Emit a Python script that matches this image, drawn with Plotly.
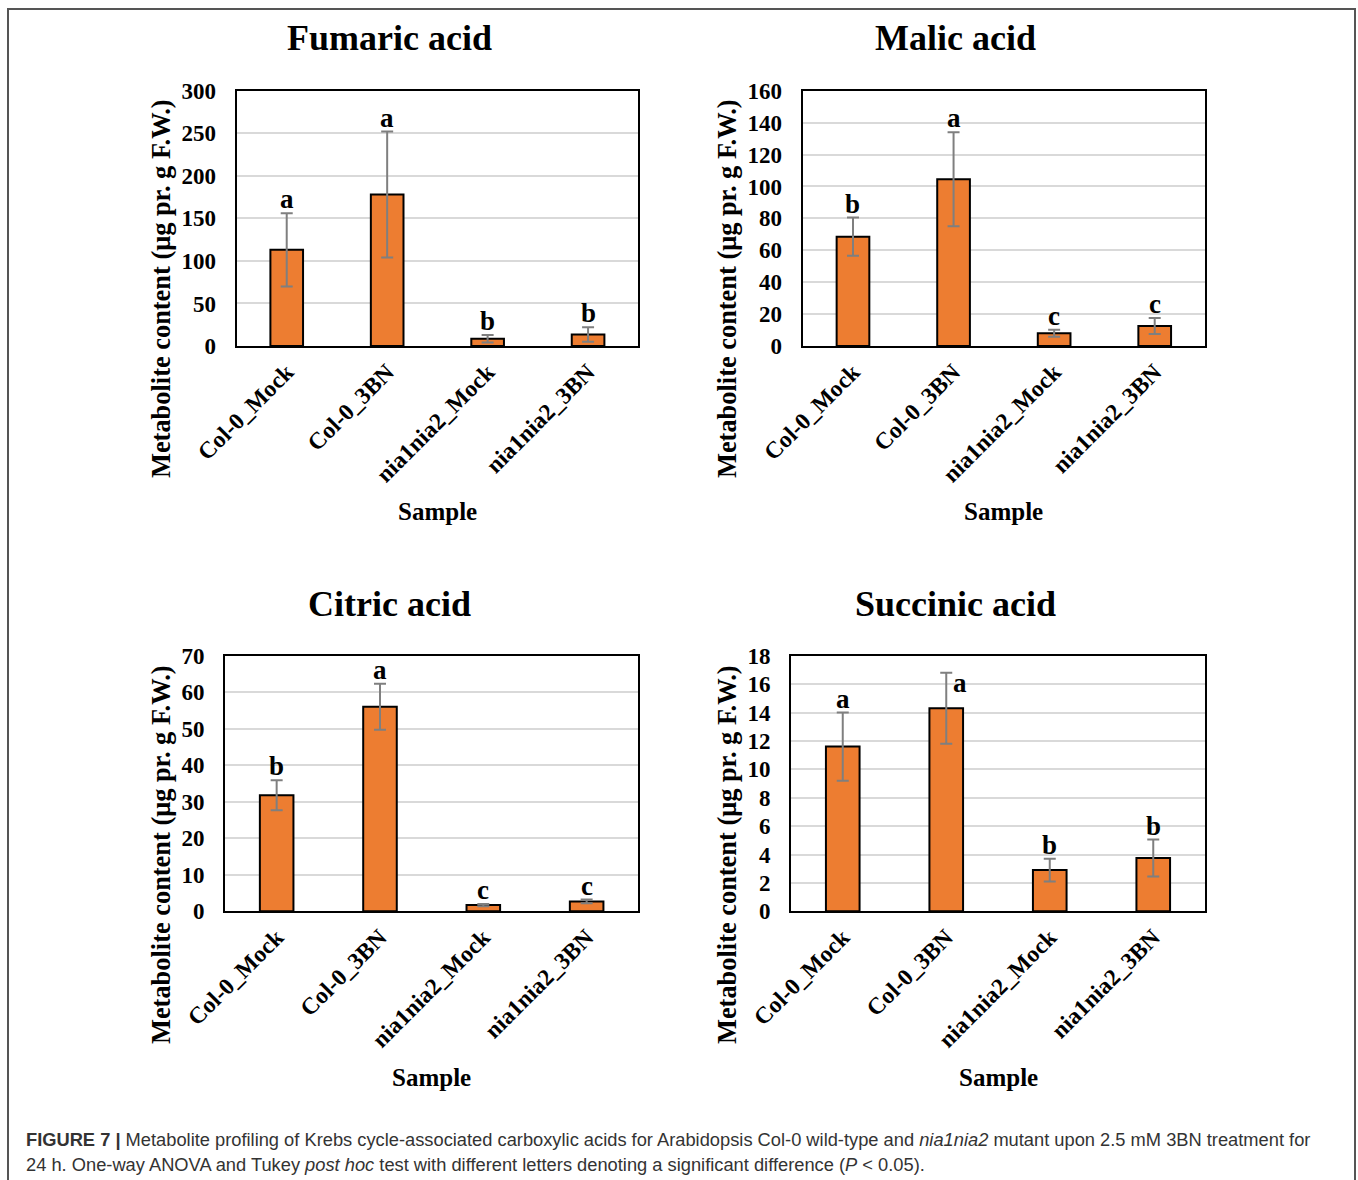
import plotly.graph_objects as go

W, H = 1358, 1180

samples = ["Col-0_Mock", "Col-0_3BN", "nia1nia2_Mock", "nia1nia2_3BN"]

fumaric_mean = [113, 178, 8.5, 13.5]
fumaric_err = [43, 74, 4.5, 8.5]
fumaric_letters = ["a", "a", "b", "b"]

malic_mean = [68.5, 104.5, 8, 12.5]
malic_err = [12, 29.5, 2.2, 5]
malic_letters = ["b", "a", "c", "c"]

citric_mean = [31.8, 56.0, 1.7, 2.7]
citric_err = [4.1, 6.3, 0.3, 0.5]
citric_letters = ["b", "a", "c", "c"]

succinic_mean = [11.6, 14.3, 2.9, 3.75]
succinic_err = [2.4, 2.5, 0.8, 1.3]
succinic_letters = ["a", "a", "b", "b"]

titles = ["Fumaric acid", "Malic acid", "Citric acid", "Succinic acid"]
y_ranges = [[0, 300], [0, 160], [0, 70], [0, 18]]
y_dticks = [50, 20, 10, 2]

y_title = "Metabolite content (μg pr. g F.W.)"
x_title = "Sample"

caption1 = ("<b>FIGURE 7 |</b> Metabolite profiling of Krebs cycle-associated carboxylic acids for "
            "Arabidopsis Col-0 wild-type and <i>nia1nia2</i> mutant upon 2.5 mM 3BN treatment for")
caption2 = ("24 h. One-way ANOVA and Tukey <i>post hoc</i> test with different letters denoting "
            "a significant difference (<i>P</i> &lt; 0.05).")

# layout in pixels: (x0, x1, y0_top, y1_bottom)
panels = [
    (236.5, 638.3, 90.7, 346.0),
    (802.7, 1205.0, 90.7, 346.0),
    (225.0, 638.3, 655.7, 911.3),
    (791.0, 1205.0, 655.7, 911.3),
]
title_pos = [(389.5, 38), (955.5, 38), (389, 604), (955, 604)]
ytitle_pos = [(161, 289), (727, 289), (161, 855), (727, 855)]
xtitle_pos = [(437, 511), (1003, 511), (431, 1077), (998, 1077)]

SERIF = "Liberation Serif, Times New Roman, serif"
SANS = "Liberation Sans, Arial, Helvetica, sans-serif"
ORANGE = "#ED7D31"


def px(x):
    return x / W


def py(y):
    return 1 - y / H


means = [fumaric_mean, malic_mean, citric_mean, succinic_mean]
errs = [fumaric_err, malic_err, citric_err, succinic_err]
letters = [fumaric_letters, malic_letters, citric_letters, succinic_letters]

fig = go.Figure()
annotations = []
layout_axes = {}

for i in range(4):
    sfx = "" if i == 0 else str(i + 1)
    fig.add_trace(go.Bar(
        x=samples, y=means[i],
        xaxis="x" + sfx, yaxis="y" + sfx,
        marker=dict(color=ORANGE, line=dict(color="black", width=2)),
        error_y=dict(type="data", array=errs[i], color="#7f7f7f", thickness=2, width=6),
        showlegend=False,
    ))
    x0, x1, y0, y1 = panels[i]
    layout_axes["xaxis" + sfx] = dict(
        domain=[px(x0), px(x1)], anchor="y" + sfx, automargin=False,
        type="category", categoryorder="array", categoryarray=samples,
        showline=True, mirror=True, linecolor="black", linewidth=2,
        showgrid=False, ticks="", tickangle=-45, ticklabelstandoff=1,
        tickfont=dict(family=SERIF, size=23.5, color="black", weight="bold"),
        fixedrange=True,
    )
    layout_axes["yaxis" + sfx] = dict(
        domain=[py(y1), py(y0)], anchor="x" + sfx, automargin=False,
        range=y_ranges[i], dtick=y_dticks[i], tick0=0,
        showline=True, mirror=True, linecolor="black", linewidth=2,
        showgrid=True, gridcolor="#d9d9d9", gridwidth=1.5, zeroline=False,
        ticks="", ticklabelstandoff=14,
        tickfont=dict(family=SERIF, size=23, color="black", weight="bold"),
        fixedrange=True,
    )
    # significance letters
    for j, s in enumerate(samples):
        xshift = 0
        yshift = 0
        if i == 3 and j == 1:
            xshift, yshift = 14, -24
        annotations.append(dict(
            x=s, y=means[i][j] + errs[i][j], xref="x" + sfx, yref="y" + sfx,
            text=letters[i][j], showarrow=False, yanchor="bottom",
            xshift=xshift, yshift=yshift - 3,
            font=dict(family=SERIF, size=27, color="black", weight="bold"),
        ))
    tx, ty = title_pos[i]
    annotations.append(dict(
        x=px(tx), y=py(ty), xref="paper", yref="paper", text=titles[i],
        showarrow=False, xanchor="center", yanchor="middle",
        font=dict(family=SERIF, size=36, color="black", weight="bold"),
    ))
    yx, yy = ytitle_pos[i]
    annotations.append(dict(
        x=px(yx), y=py(yy), xref="paper", yref="paper", text=y_title,
        showarrow=False, xanchor="center", yanchor="middle", textangle=-90,
        font=dict(family=SERIF, size=26.4, color="black", weight="bold"),
    ))
    xx, xy = xtitle_pos[i]
    annotations.append(dict(
        x=px(xx), y=py(xy), xref="paper", yref="paper", text=x_title,
        showarrow=False, xanchor="center", yanchor="middle",
        font=dict(family=SERIF, size=25, color="black", weight="bold"),
    ))

annotations.append(dict(
    x=px(24), y=py(1139), xref="paper", yref="paper", text=caption1,
    showarrow=False, xanchor="left", yanchor="middle",
    font=dict(family=SANS, size=18.3, color="#333333"),
))
annotations.append(dict(
    x=px(24), y=py(1164), xref="paper", yref="paper", text=caption2,
    showarrow=False, xanchor="left", yanchor="middle",
    font=dict(family=SANS, size=18.3, color="#333333"),
))

border = dict(color="#555555", width=2)
shapes = [
    dict(type="line", xref="paper", yref="paper", x0=px(8), x1=px(8), y0=py(9), y1=py(H + 5), line=border),
    dict(type="line", xref="paper", yref="paper", x0=px(7), x1=px(1356), y0=py(9), y1=py(9), line=border),
    dict(type="line", xref="paper", yref="paper", x0=px(1355), x1=px(1355), y0=py(9), y1=py(H + 5), line=border),
]

fig.update_layout(
    width=W, height=H, autosize=False,
    margin=dict(l=0, r=0, t=0, b=0, pad=0, autoexpand=False),
    paper_bgcolor="white", plot_bgcolor="white",
    bargap=0.675, showlegend=False,
    annotations=annotations, shapes=shapes,
    **layout_axes,
)

fig.write_html("out.html", config={"displayModeBar": False},
               post_script="document.body.style.margin='0';document.body.style.overflow='hidden';")
